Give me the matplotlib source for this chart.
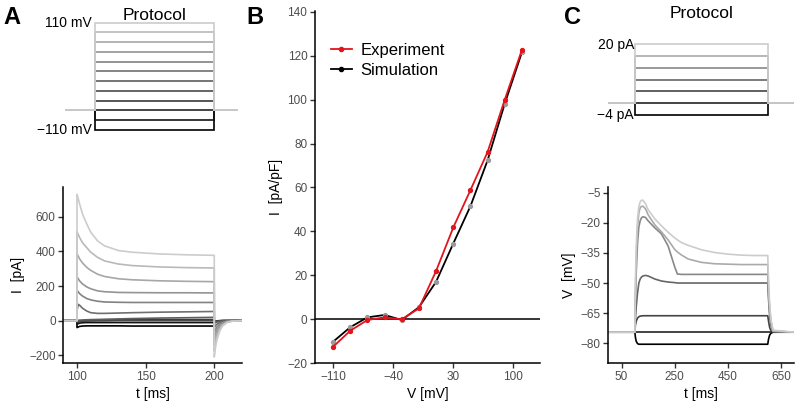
import numpy as np
import matplotlib
matplotlib.use("Agg")
import matplotlib.pyplot as plt
from matplotlib.lines import Line2D

plt.rcParams['font.family'] = ['Liberation Sans', 'DejaVu Sans']

W, H = 800, 405
TICK_TXT = '#4d4d4d'
TICK_CLR = '#333333'
RED = '#e3141c'

# ── panel A: voltage-clamp protocol + current traces ───────────────────────
A_LEVELS = [-110, -90, -70, -50, -30, -10, 10, 30, 50, 70, 90, 110]   # mV
A_HOLD = -70
A_PROT_T = [75, 100, 100, 200, 200, 220]

A_T_STEP = [100, 101, 102, 104, 107, 110, 115, 120, 130, 140, 160, 180, 200]
A_T_TAIL = [200, 201, 202, 204, 206, 209, 213, 220]
A_STEP = {
    -110: [-40, -36, -33, -31, -30, -30, -30, -30, -30, -31, -31, -31, -31],
    -90:  [-20, -17, -14, -12, -11, -11, -11, -11, -11, -11, -11, -11, -11],
    -70:  [-10, -8, -5, -2, 0, 1, 2, 2, 3, 3, 3, 3, 3],
    -50:  [-8, -6, -3, 0, 2, 3, 4, 5, 5, 6, 6, 6, 6],
    -30:  [-5, -5, -4, -3, -2, -2, -1, -1, 0, 0, 0, 0, 0],
    -10:  [2, 2, 3, 4, 5, 6, 7, 8, 10, 12, 15, 17, 19],
    10:   [60, 94, 88, 72, 56, 46, 42, 42, 44, 46, 49, 51, 53],
    30:   [175, 165, 155, 142, 128, 120, 112, 108, 106, 105, 105, 105, 105],
    50:   [254, 240, 228, 212, 195, 184, 172, 167, 163, 162, 161, 161, 160],
    70:   [388, 370, 355, 333, 308, 290, 268, 255, 242, 236, 230, 227, 225],
    90:   [513, 495, 478, 450, 422, 395, 365, 345, 327, 318, 310, 306, 304],
    110:  [729, 700, 670, 615, 560, 510, 460, 432, 405, 395, 385, 380, 377],
}
A_TAIL = {
    -110: [-10, -7, -5, -3, -1, 0, 0, 0],
    -90:  [-4, -3, -2, -1, 0, 0, 0, 0],
    -70:  [-2, -1, -1, 0, 0, 0, 0, 0],
    -50:  [-3, -2, -1, -1, 0, 0, 0, 0],
    -30:  [-5, -3, -2, -1, 0, 0, 0, 0],
    -10:  [-15, -10, -7, -4, -2, -1, 0, 0],
    10:   [-40, -28, -20, -11, -6, -2, -1, 0],
    30:   [-70, -50, -36, -20, -11, -4, -1, 0],
    50:   [-105, -75, -55, -30, -16, -6, -2, 0],
    70:   [-140, -100, -72, -40, -22, -8, -2, 0],
    90:   [-175, -125, -90, -50, -27, -10, -3, 0],
    110:  [-210, -150, -110, -60, -32, -12, -3, 0],
}

# ── panel B: I-V curve ──────────────────────────────────────────────────────
IV_V = [-110, -90, -70, -50, -30, -10, 10, 30, 50, 70, 90, 110]
IV_EXP = [-12.5, -5.2, -0.3, 0.9, 0.0, 5.0, 22.0, 41.8, 58.8, 76.2, 100.0, 122.7]
IV_SIM = [-10.2, -3.6, 0.9, 2.0, -0.3, 5.5, 17.1, 34.5, 51.5, 72.4, 98.2, 121.6]

# ── panel C: current-clamp protocol + voltage traces ───────────────────────
C_LEVELS = [-4, 0, 4, 8, 12, 16, 20]   # pA
C_PROT_T = [0, 100, 100, 600, 600, 700]
C_T = [0, 100, 102, 105, 110, 115, 120, 125, 130, 140, 150, 175, 200, 225,
       250, 260, 275, 300, 350, 400, 450, 500, 550, 600, 603, 607, 612, 620, 700]
C_V = {
    -4: [-74.5, -74.5, -77, -79, -80.2, -80.5, -80.5, -80.5, -80.5, -80.5, -80.5,
         -80.5, -80.5, -80.5, -80.5, -80.5, -80.5, -80.5, -80.5, -80.5, -80.5,
         -80.5, -80.5, -80.5, -78, -76, -75, -74.5, -74.5],
    0: [-74.5, -74.5, -74.5, -74.5, -74.5, -74.5, -74.5, -74.5, -74.5, -74.5,
        -74.5, -74.5, -74.5, -74.5, -74.5, -74.5, -74.5, -74.5, -74.5, -74.5,
        -74.5, -74.5, -74.5, -74.5, -74.5, -74.5, -74.5, -74.5, -74.5],
    4: [-74.5, -74.5, -71, -69, -67.5, -66.8, -66.5, -66.4, -66.3, -66.3, -66.3,
        -66.3, -66.3, -66.3, -66.3, -66.3, -66.3, -66.3, -66.3, -66.3, -66.3,
        -66.3, -66.3, -66.3, -69, -72, -73.8, -74.5, -74.5],
    8: [-74.5, -74.5, -68, -62, -55, -50, -48, -47, -46.5, -46.2, -46.5, -48,
        -49, -49.5, -49.8, -50, -50, -50, -50, -50, -50, -50, -50, -50,
        -58, -66, -71, -74, -74.5],
    12: [-74.5, -74.5, -60, -45, -30, -22, -19, -17.5, -17, -17.3, -19, -22.5,
         -25.5, -31.5, -42, -45.5, -45.7, -45.7, -45.7, -45.7, -45.7, -45.7,
         -45.7, -45.7, -55, -64, -70, -74, -74.5],
    16: [-74.5, -74.5, -55, -38, -22, -15, -12.5, -11.8, -11.7, -13, -16, -21,
         -24.5, -28.5, -33.3, -34.5, -36, -38, -39.7, -40.4, -40.6, -40.8,
         -40.8, -40.8, -52, -62, -69, -74, -74.5],
    20: [-74.5, -74.5, -50, -32, -18, -12, -9.5, -8.8, -8.7, -10.5, -13.5, -18,
         -21.5, -24.7, -27.5, -28.5, -29.8, -31.2, -33.4, -34.8, -35.6, -36.1,
         -36.3, -36.3, -48, -60, -68, -73.5, -74.5],
}


def px_box(left, top, right, bottom):
    """Pixel box (top-left origin) -> figure-fraction rect."""
    return [left / W, 1 - bottom / H, (right - left) / W, (bottom - top) / H]


def ftxt(fig, x, y, s, **kw):
    fig.text(x / W, 1 - y / H, s, **kw)


def grays(n):
    return [str(g) for g in np.linspace(0.0, 0.8, n)]


def style_axes(ax):
    for side in ("top", "right"):
        ax.spines[side].set_visible(False)
    for side in ("left", "bottom"):
        ax.spines[side].set_linewidth(1.1)
        ax.spines[side].set_color('black')
    ax.tick_params(colors=TICK_CLR, labelcolor=TICK_TXT, labelsize=8.5,
                   length=3.5, width=1.0, pad=2)


fig = plt.figure(figsize=(W / 100, H / 100), dpi=100)

# ── A protocol ──
ax = fig.add_axes(px_box(65, 20.3, 238, 132.1))
for lvl, c in zip(A_LEVELS, grays(len(A_LEVELS))):
    ax.plot(A_PROT_T, [A_HOLD, A_HOLD, lvl, lvl, A_HOLD, A_HOLD], color=c,
            lw=1.2, solid_joinstyle='miter')
ax.set_xlim(75, 220)
ax.set_ylim(-115, 115)
ax.axis('off')
ftxt(fig, 92, 23, '110 mV', ha='right', va='center', fontsize=10)
ftxt(fig, 92, 130, '\u2212110 mV', ha='right', va='center', fontsize=10)
ftxt(fig, 155, 15, 'Protocol', ha='center', va='center', fontsize=12.5)

# ── A traces ──
ax = fig.add_axes(px_box(63.3, 186.7, 241.7, 363.3))
for lvl, c in zip(A_LEVELS, grays(len(A_LEVELS))):
    t = [80, 100] + A_T_STEP + A_T_TAIL
    y = [0, 0] + A_STEP[lvl] + A_TAIL[lvl]
    ax.plot(t, y, color=c, lw=1.2)
ax.set_xlim(90, 220)
ax.set_ylim(-246, 773)
ax.set_xticks([100, 150, 200])
ax.set_yticks([-200, 0, 200, 400, 600])
ax.set_yticklabels(['\u2212200', '0', '200', '400', '600'])
style_axes(ax)
ax.set_xlabel('t [ms]', fontsize=10, labelpad=3)
ax.set_ylabel('I  [pA]', fontsize=10, labelpad=3)

# ── B: I-V ──
ax = fig.add_axes(px_box(315, 10.6, 540, 363.3))
ax.axhline(0, color='black', lw=1.1, zorder=1)
ax.plot(IV_V, IV_SIM, color='black', lw=1.3, zorder=2)
ax.plot(IV_V, IV_SIM, 'o', color='#9a9a9a', ms=2.8, zorder=3)
ax.plot(IV_V, IV_EXP, color=RED, lw=1.3, marker='o', ms=2.8, zorder=4)
ax.set_xlim(-131, 131)
ax.set_ylim(-20, 140.5)
ax.set_xticks([-110, -40, 30, 100])
ax.set_xticklabels(['\u2212110', '\u221240', '30', '100'])
ax.set_yticks(range(-20, 141, 20))
ax.set_yticklabels(['\u221220'] + [str(v) for v in range(0, 141, 20)])
style_axes(ax)
ax.set_xlabel('V [mV]', fontsize=10, labelpad=3)
ax.set_ylabel('I  [pA/pF]', fontsize=10, labelpad=3)
handles = [Line2D([], [], color=RED, lw=1.3, marker='o', ms=3),
           Line2D([], [], color='black', lw=1.3, marker='o', ms=3)]
ax.legend(handles, ['Experiment', 'Simulation'], loc='upper left',
          bbox_to_anchor=(331 / W, 1 - 43 / H), bbox_transform=fig.transFigure,
          frameon=False, fontsize=12, handlelength=1.25, handletextpad=0.5,
          borderpad=0, borderaxespad=0, labelspacing=0.3)

# ── C protocol ──
ax = fig.add_axes(px_box(608.3, 41.4, 794.3, 117.9))
for lvl, c in zip(C_LEVELS, grays(len(C_LEVELS))):
    ax.plot(C_PROT_T, [0, 0, lvl, lvl, 0, 0], color=c, lw=1.2,
            solid_joinstyle='miter')
ax.set_xlim(0, 700)
ax.set_ylim(-5, 21)
ax.axis('off')
ftxt(fig, 634, 45, '20 pA', ha='right', va='center', fontsize=10)
ftxt(fig, 634, 115, '\u22124 pA', ha='right', va='center', fontsize=10)
ftxt(fig, 702, 13, 'Protocol', ha='center', va='center', fontsize=12.5)

# ── C traces ──
ax = fig.add_axes(px_box(608.3, 186.7, 794.3, 363.3))
for lvl, c in zip(C_LEVELS, grays(len(C_LEVELS))):
    ax.plot(C_T, C_V[lvl], color=c, lw=1.2)
ax.set_xlim(0, 700)
ax.set_ylim(-90, -2)
ax.set_xticks([50, 250, 450, 650])
ax.set_yticks([-5, -20, -35, -50, -65, -80])
ax.set_yticklabels(['\u22125', '\u221220', '\u221235', '\u221250', '\u221265', '\u221280'])
style_axes(ax)
ax.set_xlabel('t [ms]', fontsize=10, labelpad=3)
ax.set_ylabel('V  [mV]', fontsize=10, labelpad=3)

# panel letters
for x, s in [(3, 'A'), (246, 'B'), (564, 'C')]:
    ftxt(fig, x, 24, s, fontsize=17, fontweight='bold', va='baseline')

fig.savefig('out.png', dpi=100)
